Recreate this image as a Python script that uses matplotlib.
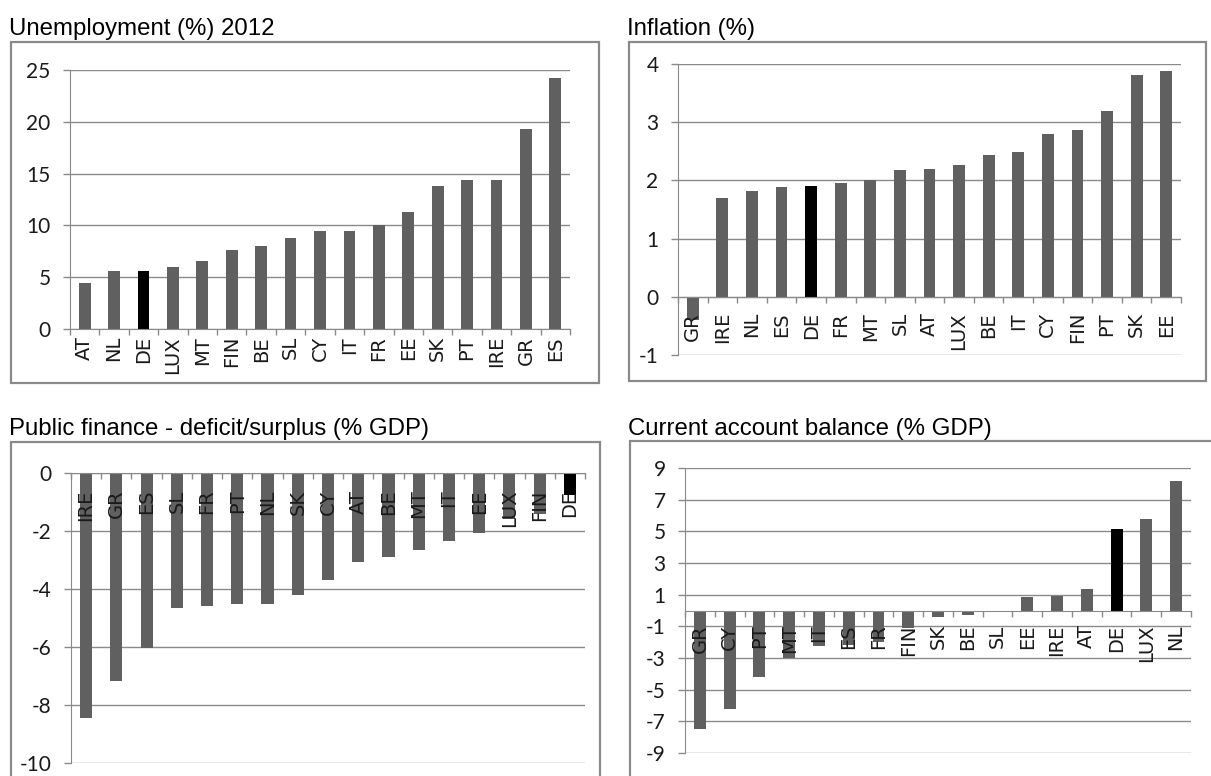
import numpy as np
import matplotlib
matplotlib.use("Agg")
import matplotlib.pyplot as plt
from matplotlib.patches import Rectangle

W, H = 1211, 776

unemp_countries = ["AT", "NL", "DE", "LUX", "MT", "FIN", "BE", "SL", "CY",
                   "IT", "FR", "EE", "SK", "PT", "IRE", "GR", "ES"]
unemp_values = [4.4, 5.6, 5.6, 6.0, 6.6, 7.6, 8.0, 8.8, 9.5,
                9.5, 10.0, 11.3, 13.8, 14.4, 14.4, 19.3, 24.2]

infl_countries = ["GR", "IRE", "NL", "ES", "DE", "FR", "MT", "SL", "AT",
                  "LUX", "BE", "IT", "CY", "FIN", "PT", "SK", "EE"]
infl_values = [-0.4, 1.69, 1.82, 1.89, 1.91, 1.96, 2.0, 2.18, 2.2,
               2.27, 2.44, 2.49, 2.8, 2.86, 3.19, 3.81, 3.88]

deficit_countries = ["IRE", "GR", "ES", "SL", "FR", "PT", "NL", "SK", "CY",
                     "AT", "BE", "MT", "IT", "EE", "LUX", "FIN", "DE"]
deficit_values = [-8.46, -7.18, -6.02, -4.65, -4.57, -4.52, -4.52, -4.21, -3.68,
                  -3.06, -2.89, -2.67, -2.35, -2.08, -1.57, -1.43, -0.75]

ca_countries = ["GR", "CY", "PT", "MT", "IT", "ES", "FR", "FIN", "SK",
                "BE", "SL", "EE", "IRE", "AT", "DE", "LUX", "NL"]
ca_values = [-7.46, -6.23, -4.18, -3.02, -2.24, -2.18, -2.0, -1.1, -0.42,
             -0.27, 0.0, 0.85, 0.93, 1.37, 5.16, 5.77, 8.18]

BAR = "#606060"
HIGHLIGHT = "#000000"
LINE = "#8a8a8a"
TICK_FONT = ["Lato", "DejaVu Sans"]
TITLE_FONT = ["Liberation Sans", "DejaVu Sans"]


def px_rect(left, top, right, bottom):
    return [left / W, 1 - bottom / H, (right - left) / W, (bottom - top) / H]


def panel(fig, rect, box, title, title_base, countries, values, yticks, label_pad):
    # frame around the chart area
    bl, bt, br, bb = box
    fig.patches.append(Rectangle((bl / W, 1 - bb / H), (br - bl) / W, (bb - bt) / H,
                                 transform=fig.transFigure, fill=False,
                                 edgecolor=LINE, linewidth=1.6))
    fig.text(bl / W - 0.002, 1 - title_base / H, title, family=TITLE_FONT,
             fontsize=17.3, va="baseline", ha="left", color="#000000")

    ax = fig.add_axes(px_rect(*rect))
    x = np.arange(len(countries))
    colors = [HIGHLIGHT if c == "DE" else BAR for c in countries]
    ax.bar(x, values, width=0.4, color=colors, zorder=1)

    for y in yticks:
        ax.axhline(y, color=LINE, linewidth=1.0, zorder=0.5)

    ax.set_xlim(-0.5, len(countries) - 0.5)
    ax.set_ylim(min(yticks), max(yticks))

    # tick geometry first, label text afterwards so the fonts stick
    ax.set_xticks(x)
    ax.set_xticks(np.arange(len(countries) + 1) - 0.5, minor=True)
    ax.tick_params(axis="x", which="major", length=0, pad=label_pad,
                   labelrotation=90, labelsize=14, labelcolor="#1a1a1a")
    ax.tick_params(axis="x", which="minor", length=4, width=1.0,
                   color=LINE, direction="out")
    ax.tick_params(axis="y", length=5, width=1.0, color=LINE, pad=9,
                   labelsize=15, labelcolor="#1a1a1a")

    ax.set_yticks(yticks)
    ax.set_yticklabels([str(t) for t in yticks], family=TICK_FONT)
    ax.set_xticklabels(countries, family=TICK_FONT)

    ax.spines["bottom"].set_position(("data", 0))
    ax.spines["bottom"].set_color(LINE)
    ax.spines["left"].set_color(LINE)
    ax.spines["top"].set_visible(False)
    ax.spines["right"].set_visible(False)
    ax.patch.set_alpha(0)
    return ax


fig = plt.figure(figsize=(W / 100, H / 100), dpi=100)

panel(fig, (70, 70, 570, 329), (11, 42, 599, 383), "Unemployment (%) 2012", 35,
      unemp_countries, unemp_values, [0, 5, 10, 15, 20, 25], 5)
panel(fig, (678, 64, 1181, 355), (629, 42, 1206, 381), "Inflation (%)", 35,
      infl_countries, infl_values, [-1, 0, 1, 2, 3, 4], 11)
panel(fig, (71, 473, 585, 763), (11, 442, 600, 800),
      "Public finance - deficit/surplus (% GDP)", 435,
      deficit_countries, deficit_values, [-10, -8, -6, -4, -2, 0], 12)
panel(fig, (685, 468, 1191, 753), (630, 441, 1240, 800),
      "Current account balance (% GDP)", 435,
      ca_countries, ca_values, [-9, -7, -5, -3, -1, 1, 3, 5, 7, 9], 10)

fig.savefig("out.png", dpi=100)
